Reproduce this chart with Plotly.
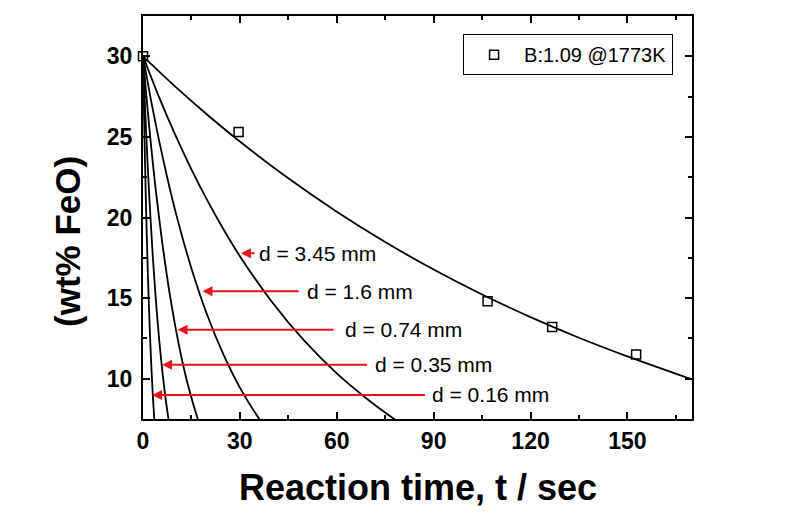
import plotly.graph_objects as go

# Measured data points (B:1.09 @1773K)
exp_t = [0, 29.6, 106.7, 126.7, 152.7]
exp_feo = [30.0, 25.3, 14.8, 13.2, 11.5]

fit_t = [0, 10, 20, 30, 45, 60, 75, 90, 105, 120, 135, 150, 170]
fit_feo = [30.0, 28.12, 26.36, 24.71, 22.43, 20.36, 18.48, 16.77, 15.22, 13.82, 12.54, 11.38, 9.95]

# Model curves for droplet sizes
d345_t = [0, 5, 10, 15, 20, 25, 30, 40, 50, 60, 70, 78, 80]
d345_feo = [30.0, 27.45, 25.12, 22.98, 21.03, 19.24, 17.60, 14.74, 12.34, 10.33, 8.65, 7.47, 7.2]

d16_t = [0, 2.5, 5, 7.5, 10, 15, 20, 25, 30, 36, 38]
d16_feo = [30.0, 27.25, 24.75, 22.48, 20.41, 16.84, 13.89, 11.46, 9.45, 7.5, 6.95]

d074_t = [0, 1, 2, 3, 4, 6, 8, 10, 12, 14, 17, 18]
d074_feo = [30.0, 27.65, 25.47, 23.47, 21.63, 18.37, 15.59, 13.24, 11.24, 9.55, 7.47, 6.88]

d035_t = [0, 0.5, 1, 1.5, 2, 3, 4, 5, 6, 7, 8, 8.5]
d035_feo = [30.0, 27.47, 25.16, 23.04, 21.10, 17.69, 14.84, 12.44, 10.43, 8.75, 7.34, 6.72]

d016_t = [0, 0.25, 0.5, 0.75, 1, 1.5, 2, 2.5, 3, 3.5, 4]
d016_feo = [30.0, 27.17, 24.61, 22.28, 20.17, 16.54, 13.56, 11.12, 9.12, 7.48, 6.13]

# Labels: text, arrow tip (t, FeO), arrow tail t, text start t
label_text = ["d = 3.45 mm", "d = 1.6 mm", "d = 0.74 mm", "d = 0.35 mm", "d = 0.16 mm"]
label_tip_t = [30.3, 18.4, 10.7, 5.9, 2.8]
label_feo = [17.78, 15.43, 13.04, 10.86, 8.99]
label_tail_t = [35.0, 48.7, 59.5, 69.8, 87.8]
label_text_t = [35.4, 50.2, 62.0, 71.2, 88.9]

x_ticks = [0, 30, 60, 90, 120, 150]
y_ticks = [10, 15, 20, 25, 30]

FONT = "Liberation Sans, Arial, sans-serif"
RED = "#e8121c"

fig = go.Figure()

curve_style = dict(color="black", width=1.8, shape="spline", smoothing=0.6)
for tt, yy in [(fit_t, fit_feo), (d345_t, d345_feo), (d16_t, d16_feo),
               (d074_t, d074_feo), (d035_t, d035_feo), (d016_t, d016_feo)]:
    fig.add_trace(go.Scatter(x=tt, y=yy, mode="lines", line=curve_style,
                             showlegend=False, hoverinfo="skip"))

fig.add_trace(go.Scatter(
    x=exp_t, y=exp_feo, mode="markers", name="B:1.09 @1773K",
    marker=dict(symbol="square-open", size=9, color="black", line=dict(width=1.5)),
    cliponaxis=False,
))

for txt, tx, ty, tail, txs in zip(label_text, label_tip_t, label_feo, label_tail_t, label_text_t):
    fig.add_annotation(x=tx, y=ty, ax=tail, ay=ty, axref="x", ayref="y",
                       xref="x", yref="y", text="", showarrow=True,
                       arrowhead=2, arrowsize=1, arrowwidth=2, arrowcolor=RED)
    fig.add_annotation(x=txs, y=ty, xref="x", yref="y", text=txt, showarrow=False,
                       xanchor="left", yanchor="middle",
                       font=dict(family=FONT, size=21, color="black"))

fig.add_annotation(x=0.5, y=-0.17, xref="paper", yref="paper",
                   text="<b>Reaction time, t / sec</b>", showarrow=False,
                   xanchor="center", yanchor="middle",
                   font=dict(family=FONT, size=36, color="black"))
fig.add_annotation(x=-0.138, y=0.44, xref="paper", yref="paper",
                   text="<b>(wt% FeO)</b>", showarrow=False, textangle=-90,
                   xanchor="center", yanchor="middle",
                   font=dict(family=FONT, size=35, color="black"))

axis_common = dict(showline=True, linecolor="black", linewidth=2, mirror="allticks",
                   ticks="inside", ticklen=7, tickwidth=1.5, tickcolor="black",
                   showgrid=False, zeroline=False,
                   tickfont=dict(family=FONT, size=23, color="black", weight="bold"))

fig.update_xaxes(range=[0, 170], tickvals=x_ticks,
                 minor=dict(dtick=15, tick0=0, ticks="inside", ticklen=4,
                            tickwidth=1.5, tickcolor="black", showgrid=False),
                 **axis_common)
fig.update_yaxes(range=[7.5, 32.5], tickvals=y_ticks, ticklabelstandoff=4,
                 minor=dict(dtick=2.5, tick0=0, ticks="inside", ticklen=4,
                            tickwidth=1.5, tickcolor="black", showgrid=False),
                 **axis_common)

# page body adds an 8px margin around the figure; size the figure to fit the window
fig.update_layout(
    width=792, height=501,
    margin=dict(l=135, r=108, t=6, b=90),
    paper_bgcolor="white", plot_bgcolor="white",
    font=dict(family=FONT, color="black"),
    legend=dict(x=0.583, y=0.955, xanchor="left", yanchor="top",
                bordercolor="black", borderwidth=1, bgcolor="white",
                itemwidth=50, font=dict(family=FONT, size=20, color="black")),
    showlegend=True,
)

fig.write_html("out.html")
